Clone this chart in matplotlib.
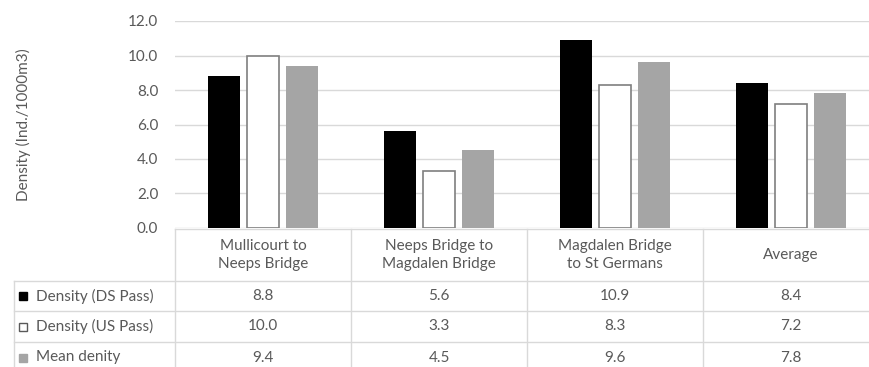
import numpy as np
import matplotlib.pyplot as plt
from matplotlib.transforms import blended_transform_factory
from matplotlib.patches import Rectangle

categories = ["Mullicourt to\nNeeps Bridge", "Neeps Bridge to\nMagdalen Bridge",
              "Magdalen Bridge\nto St Germans", "Average"]
series_names = ["Density (DS Pass)", "Density (US Pass)", "Mean denity"]
ds_pass = [8.8, 5.6, 10.9, 8.4]
us_pass = [10.0, 3.3, 8.3, 7.2]
mean_density = [9.4, 4.5, 9.6, 7.8]
y_ticks = [0, 2, 4, 6, 8, 10, 12]

plt.rcParams['font.family'] = ['Lato', 'DejaVu Sans']
text_col = "#595959"
grid_col = "#d9d9d9"
fs = 11

W, H = 869, 367
fig = plt.figure(figsize=(W / 100, H / 100), dpi=100)

def fy(py):
    # pixel row (from top) -> figure fraction
    return 1 - py / H

ax_left, ax_right, ax_top, ax_bot = 175, 879, 21, 228
ax = fig.add_axes([ax_left / W, fy(ax_bot), (ax_right - ax_left) / W, (ax_bot - ax_top) / H])

x = np.arange(len(categories))
bw = 0.18
step = 0.222
ax.bar(x - step, ds_pass, bw, color="black", zorder=3)
ax.bar(x, us_pass, bw, color="white", edgecolor="#7f7f7f", linewidth=1.2, zorder=3)
ax.bar(x + step, mean_density, bw, color="#a5a5a5", zorder=3)

ax.set_xlim(-0.5, len(categories) - 0.5)
ax.set_ylim(0, 12)
ax.set_yticks(y_ticks)
ax.set_yticklabels([f"{v:.1f}" for v in y_ticks], color=text_col, fontsize=fs)
ax.tick_params(axis="y", length=0, pad=12)
ax.set_xticks([])
ax.grid(axis="y", color=grid_col, linewidth=1, zorder=0)
for s in ax.spines.values():
    s.set_visible(False)
ax.set_ylabel("Density (Ind./1000m3)", color=text_col, fontsize=fs)
ax.yaxis.set_label_coords(-(ax_left - 31) / (ax_right - ax_left), 0.5)

# data table below the chart
tr = blended_transform_factory(ax.transData, fig.transFigure)
rows_y = [229, 281, 311, 342, 373]
edges = np.arange(len(categories) + 1) - 0.5
line_kw = dict(color=grid_col, linewidth=1, clip_on=False)

fig.add_artist(plt.Line2D([edges[0], edges[-1]], [fy(rows_y[0])] * 2, transform=tr, **line_kw))
for ry in rows_y[1:]:
    fig.add_artist(plt.Line2D([14 / W, 1.02], [fy(ry)] * 2, transform=fig.transFigure, **line_kw))
for e in edges:
    fig.add_artist(plt.Line2D([e, e], [fy(rows_y[0]), fy(rows_y[-1])], transform=tr, **line_kw))
fig.add_artist(plt.Line2D([14 / W] * 2, [fy(rows_y[1]), fy(rows_y[-1])],
                          transform=fig.transFigure, **line_kw))

for i, c in enumerate(categories):
    fig.text(x[i], fy((rows_y[0] + rows_y[1]) / 2), c, transform=tr, ha="center", va="center",
             color=text_col, fontsize=fs, linespacing=1.35)

series = [ds_pass, us_pass, mean_density]
keys = [dict(fc="black", ec="black"), dict(fc="white", ec="#595959"), dict(fc="#a5a5a5", ec="#a5a5a5")]
for r, (name, vals, key) in enumerate(zip(series_names, series, keys)):
    cy = (rows_y[r + 1] + rows_y[r + 2]) / 2
    fig.add_artist(Rectangle((19 / W, fy(cy + 4)), 8 / W, 8 / H, transform=fig.transFigure,
                             linewidth=1, **key))
    fig.text(36 / W, fy(cy), name, ha="left", va="center", color=text_col, fontsize=fs)
    for i, v in enumerate(vals):
        fig.text(x[i], fy(cy), f"{v:.1f}", transform=tr, ha="center", va="center",
                 color=text_col, fontsize=fs)

fig.savefig("out.png", dpi=100)
